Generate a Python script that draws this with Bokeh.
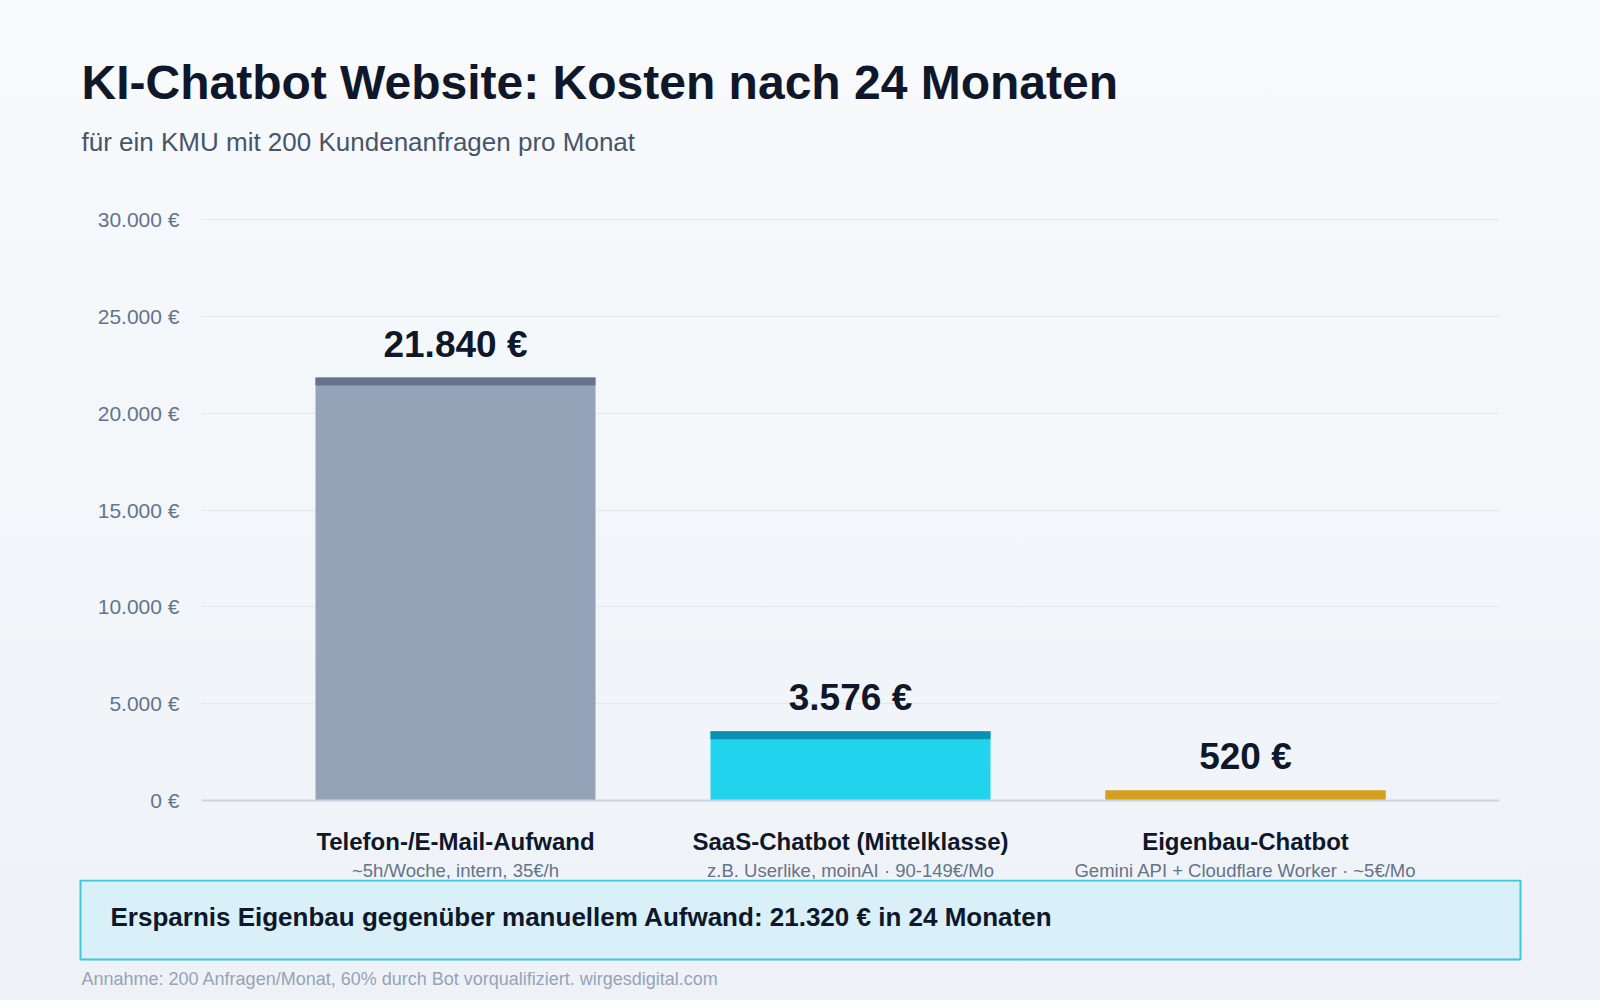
from bokeh.plotting import figure
from bokeh.layouts import column
from bokeh.models import ColumnDataSource, LabelSet, Label, BoxAnnotation, Span, Range1d
from bokeh.core.properties import value
from bokeh.embed import file_html
from bokeh.resources import INLINE

# ---- data ----
categories = ["Telefon-/E-Mail-Aufwand", "SaaS-Chatbot (Mittelklasse)", "Eigenbau-Chatbot"]
details = ["~5h/Woche, intern, 35€/h", "z.B. Userlike, moinAI · 90-149€/Mo",
           "Gemini API + Cloudflare Worker · ~5€/Mo"]
costs = [21840, 3576, 520]
cost_labels = ["21.840 €", "3.576 €", "520 €"]
y_ticks = [0, 5000, 10000, 15000, 20000, 25000, 30000]
y_tick_labels = ["0 €", "5.000 €", "10.000 €", "15.000 €", "20.000 €", "25.000 €", "30.000 €"]
body_colors = ["#94a3b8", "#22d3ee", "#d4a01e"]
cap_colors = ["#64748b", "#0891b2", "#d4a01e"]

title_text = "KI-Chatbot Website: Kosten nach 24 Monaten"
subtitle_text = "für ein KMU mit 200 Kundenanfragen pro Monat"
savings_text = "Ersparnis Eigenbau gegenüber manuellem Aufwand: 21.320 € in 24 Monaten"
footnote_text = "Annahme: 200 Anfragen/Monat, 60% durch Bot vorqualifiziert. wirgesdigital.com"

# ---- page geometry (pixels) ----
W = 1600
HEAD_H = 200          # header strip: page y 0..200
MAIN_BOTTOM = 879     # main chart strip: page y 200..879
FOOT_H = 121          # footer strip: page y 879..1000
FL, FR = 201, 1499    # plot frame left/right
Y_ZERO_PX, Y_TOP_PX = 800, 219   # page y of 0 € and 30.000 €
X0, X1 = -0.643, 2.643
Y_MAX = 30000
PXY = Y_MAX / (Y_ZERO_PX - Y_TOP_PX)
PXX = (X1 - X0) / (FR - FL)
FONT = "Liberation Sans"
INK = "#0f172a"


def dy(py):
    """page y (px) -> data y of the main chart"""
    return (Y_ZERO_PX - py) * PXY


def strip(height, y_top):
    f = figure(width=W, height=height, output_backend="svg", toolbar_location=None, title=None,
               x_range=Range1d(0, W), y_range=Range1d(y_top + height, y_top),
               min_border=0, min_border_left=0, min_border_right=0,
               min_border_top=0, min_border_bottom=0, frame_align=False)
    f.axis.visible = False
    f.grid.visible = False
    f.outline_line_color = None
    f.border_fill_alpha = 0
    f.background_fill_alpha = 0
    return f


# ---- header ----
head = strip(HEAD_H, 0)
head.add_layout(Label(x=81, y=81.5, text=title_text, text_font=FONT, text_font_style="bold",
                      text_font_size="48px", text_color=INK, text_baseline="alphabetic"))
head.add_layout(Label(x=81, y=141, text=subtitle_text, text_font=FONT,
                      text_font_size="26px", text_color="#475569", text_baseline="alphabetic"))

# ---- main chart ----
main_h = MAIN_BOTTOM - HEAD_H
p = figure(width=W, height=main_h, output_backend="svg", toolbar_location=None, title=None,
           x_range=Range1d(X0, X1), y_range=Range1d(dy(MAIN_BOTTOM), dy(HEAD_H)),
           min_border_left=FL, min_border_right=W - FR,
           min_border_top=0, min_border_bottom=0, frame_align=False)
p.border_fill_alpha = 0
p.background_fill_alpha = 0
p.outline_line_color = None

p.xaxis.visible = False
p.xgrid.visible = False
p.ygrid.ticker = y_ticks
p.ygrid.grid_line_color = "#e2e8f0"
p.ygrid.grid_line_width = 1

ax = p.yaxis[0]
ax.ticker = y_ticks
ax.major_label_overrides = dict(zip(y_ticks, y_tick_labels))
ax.axis_line_color = None
ax.major_tick_line_color = None
ax.minor_tick_line_color = None
ax.major_tick_out = 0
ax.major_tick_in = 0
ax.major_label_standoff = 22
ax.major_label_text_font = FONT
ax.major_label_text_font_size = "21px"
ax.major_label_text_color = "#64748b"

xs = list(range(len(categories)))
bar_w = 280 * PXX
cap_h = 8 * PXY
src = ColumnDataSource(dict(
    x=xs, top=costs, body=body_colors, cap=cap_colors,
    cap_bottom=[c - cap_h for c in costs],
    label=cost_labels, label_y=[c + 21 * PXY for c in costs],
    cat=categories, cat_y=[dy(849)] * len(xs),
    det=details, det_y=[dy(876)] * len(xs),
))

p.vbar(x="x", top="top", bottom=0, width=bar_w, fill_color="body", line_color=None, source=src)
p.vbar(x="x", top="top", bottom="cap_bottom", width=bar_w, fill_color="cap", line_color=None, source=src)
p.add_layout(Span(location=0, dimension="width", line_color="#cbd5e1", line_width=2))

p.add_layout(LabelSet(x="x", y="label_y", text="label", source=src, text_align="center",
                      text_baseline="alphabetic", text_font=value(FONT), text_font_style="bold",
                      text_font_size="37px", text_color=INK))
p.add_layout(LabelSet(x="x", y="cat_y", text="cat", source=src, text_align="center",
                      text_baseline="alphabetic", text_font=value(FONT), text_font_style="bold",
                      text_font_size="24px", text_color=INK))
p.add_layout(LabelSet(x="x", y="det_y", text="det", source=src, text_align="center",
                      text_baseline="alphabetic", text_font=value(FONT),
                      text_font_size="18.5px", text_color="#64748b"))

# ---- footer ----
foot = strip(FOOT_H, MAIN_BOTTOM)
foot.add_layout(BoxAnnotation(left=80, right=1520, top=880, bottom=959,
                              fill_color="#daf0f8", fill_alpha=1,
                              line_color="#40c8d8", line_alpha=1, line_width=2))
foot.add_layout(Label(x=110, y=916, text=savings_text, text_font=FONT, text_font_style="bold",
                      text_font_size="26px", text_color=INK, text_baseline="alphabetic"))
foot.add_layout(Label(x=81, y=978, text=footnote_text, text_font=FONT,
                      text_font_size="18px", text_color="#94a3b8", text_baseline="alphabetic"))

page = column(head, p, foot, spacing=0)
page.styles = {"background": "linear-gradient(180deg, #f8fafc 0%, #eef2f7 100%)"}

open("out.html", "w").write(file_html(page, INLINE))
